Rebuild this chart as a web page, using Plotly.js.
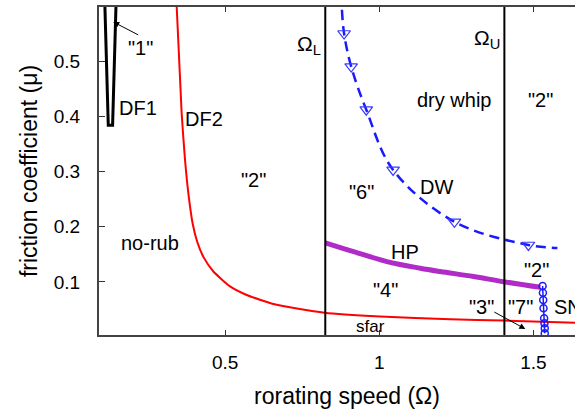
<!DOCTYPE html>
<html>
<head>
<meta charset="utf-8">
<script src="https://cdn.plot.ly/plotly-3.0.1.min.js"></script>
<style>
html,body{margin:0;padding:0;overflow:hidden;background:#fff;}
#chart{width:595px;height:411px;}
</style>
</head>
<body>
<div id="chart"></div>
<script>
// ---- data ----
const df1X = [0.110, 0.121, 0.135, 0.146];
const df1Y = [0.600, 0.384, 0.384, 0.600];

const df2X = [0.343, 0.359, 0.370, 0.382, 0.395, 0.410, 0.430, 0.462, 0.516, 0.570, 0.657, 0.733, 0.822, 1.003, 1.231, 1.403, 1.636];
const df2Y = [0.598, 0.406, 0.321, 0.255, 0.205, 0.172, 0.145, 0.119, 0.092, 0.0765, 0.060, 0.052, 0.0444, 0.0376, 0.0325, 0.0303, 0.026];

const hpX = [0.825, 0.917, 1.025, 1.133, 1.198, 1.306, 1.404, 1.523];
const hpY = [0.171, 0.155, 0.137, 0.125, 0.119, 0.110, 0.1005, 0.0904];

const dwLineX = [0.879, 0.886, 0.909, 0.958, 1.045, 1.244, 1.484, 1.578];
const dwLineY = [0.593, 0.550, 0.490, 0.412, 0.303, 0.209, 0.167, 0.1615];
const dwMarkX = [0.886, 0.909, 0.958, 1.045, 1.244, 1.484];
const dwMarkY = [0.550, 0.490, 0.412, 0.303, 0.209, 0.167];

const snX = [1.530, 1.531, 1.532, 1.533, 1.535, 1.536, 1.537, 1.537];
const snY = [0.0928, 0.0806, 0.0674, 0.0524, 0.0343, 0.0253, 0.0163, 0.0072];

const omegaL = 0.825;
const omegaU = 1.406;

const labelText = ['"1"', 'DF1', 'DF2', '"2"', 'no-rub', 'dry whip', '"2"', '"6"', 'DW', 'HP', '"4"', '"2"', '"3"', '"7"'];
const labelX    = [0.227, 0.218, 0.433, 0.592, 0.256, 1.242, 1.523, 0.944, 1.187, 1.084, 1.019, 1.509, 1.333, 1.458];
const labelY    = [0.524, 0.415, 0.396, 0.285, 0.171, 0.429, 0.429, 0.263, 0.2725, 0.154, 0.0855, 0.1217, 0.0553, 0.0553];

const xTicks = [0.5, 1, 1.5];
const yTicks = [0.1, 0.2, 0.3, 0.4, 0.5];

const FONT = 'Liberation Sans, Arial, Helvetica, sans-serif';

const traces = [
  {x: df1X, y: df1Y, mode: 'lines', line: {color: '#000', width: 3}},
  {x: df2X, y: df2Y, mode: 'lines', line: {color: '#ff0000', width: 2, shape: 'spline', smoothing: 0.5}},
  {x: hpX, y: hpY, mode: 'lines', line: {color: '#b02cc6', width: 5, shape: 'spline'}},
  {x: dwLineX, y: dwLineY, mode: 'lines', line: {color: '#1a1aff', width: 2.5, dash: '10px,6px', shape: 'spline'}},
  {x: dwMarkX, y: dwMarkY, mode: 'markers', marker: {symbol: 'triangle-down-open', size: 11, color: '#3a3aff', line: {width: 1.2, color: '#3a3aff'}}},
  {x: snX, y: snY, mode: 'lines+markers', line: {color: '#1a1aff', width: 1.5},
   marker: {symbol: 'circle-open', size: 7, color: '#1a1aff', line: {width: 1.5, color: '#1a1aff'}}}
];

const annotations = labelText.map((t, i) => ({
  x: labelX[i], y: labelY[i], xref: 'x', yref: 'y', text: t, showarrow: false,
  font: {family: FONT, size: 20, color: '#000'}, xanchor: 'center', yanchor: 'middle'
}));
annotations.push({x: 0.971, y: 0.020, xref: 'x', yref: 'y', text: 'sfar', showarrow: false,
  font: {family: FONT, size: 17, color: '#000'}});
annotations.push({x: 1.560, y: 0.0553, xref: 'x', yref: 'y', text: 'SN', showarrow: false,
  xanchor: 'left', font: {family: FONT, size: 20, color: '#000'}});
annotations.push({x: omegaL, y: 0.529, xref: 'x', yref: 'y', text: 'Ω<sub>L</sub>', showarrow: false,
  xanchor: 'right', xshift: -2, font: {family: FONT, size: 21, color: '#000'}});
annotations.push({x: omegaU, y: 0.540, xref: 'x', yref: 'y', text: 'Ω<sub>U</sub>', showarrow: false,
  xanchor: 'right', xshift: -2, font: {family: FONT, size: 21, color: '#000'}});
// arrows
annotations.push({x: 0.137, y: 0.571, xref: 'x', yref: 'y', text: ' ', showarrow: true,
  ax: 27, ay: 14, arrowhead: 2, arrowsize: 1.2, arrowwidth: 1, arrowcolor: '#000', standoff: 0,
  font: {size: 2}});
annotations.push({x: 1.474, y: 0.0149, xref: 'x', yref: 'y', text: ' ', showarrow: true,
  ax: -33, ay: -18, arrowhead: 2, arrowsize: 1.2, arrowwidth: 1, arrowcolor: '#000', standoff: 0,
  font: {size: 2}});

const layout = {
  width: 595, height: 411,
  margin: {l: 99, r: 0, t: 7, b: 76},
  paper_bgcolor: '#fff', plot_bgcolor: '#fff',
  showlegend: false,
  font: {family: FONT, color: '#000'},
  xaxis: {
    range: [0.0909, 1.70], tickvals: xTicks, ticktext: xTicks.map(v => String(v)),
    ticks: 'inside', ticklen: 5, tickwidth: 1, tickcolor: '#333',
    showline: true, linecolor: '#444', linewidth: 2, mirror: 'ticks',
    showgrid: false, zeroline: false,
    tickfont: {family: FONT, size: 19, color: '#000'}, ticklabelstandoff: 9,
    title: {text: 'rorating speed (Ω)', font: {family: FONT, size: 23, color: '#000'}, standoff: 16}
  },
  yaxis: {
    range: [0.004, 0.598], tickvals: yTicks, ticktext: yTicks.map(v => String(v)),
    ticks: 'inside', ticklen: 6, tickwidth: 1, tickcolor: '#333',
    showline: true, linecolor: '#444', linewidth: 2, mirror: 'ticks',
    showgrid: false, zeroline: false,
    tickfont: {family: FONT, size: 19, color: '#000'}, ticklabelstandoff: 13,
    title: {text: 'friction coefficient (μ)', font: {family: FONT, size: 23, color: '#000'}, standoff: 10}
  },
  shapes: [
    {type: 'line', xref: 'x', yref: 'paper', x0: omegaL, x1: omegaL, y0: 0, y1: 1, line: {color: '#000', width: 2}},
    {type: 'line', xref: 'x', yref: 'paper', x0: omegaU, x1: omegaU, y0: 0, y1: 1, line: {color: '#000', width: 2}}
  ],
  annotations: annotations
};

Plotly.newPlot('chart', traces, layout, {displayModeBar: false, staticPlot: true});
</script>
</body>
</html>
